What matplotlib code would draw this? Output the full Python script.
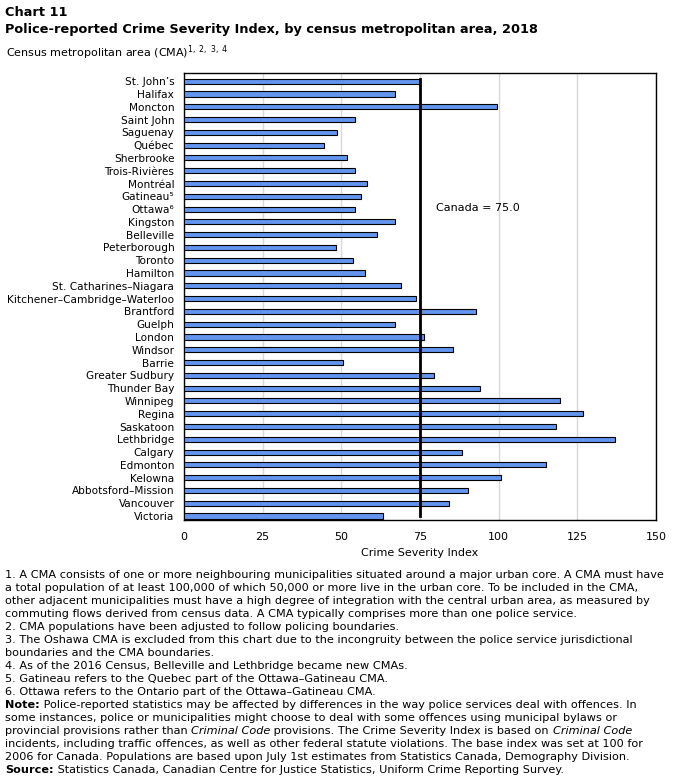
import numpy as np
import matplotlib
matplotlib.use("Agg")
import matplotlib.pyplot as plt

# data
cities = ["St. John\u2019s", "Halifax", "Moncton", "Saint John", "Saguenay", "Québec",
          "Sherbrooke", "Trois-Rivières", "Montréal", "Gatineau\u2075", "Ottawa\u2076",
          "Kingston", "Belleville", "Peterborough", "Toronto", "Hamilton",
          "St. Catharines\u2013Niagara", "Kitchener\u2013Cambridge\u2013Waterloo",
          "Brantford", "Guelph", "London", "Windsor", "Barrie", "Greater Sudbury",
          "Thunder Bay", "Winnipeg", "Regina", "Saskatoon", "Lethbridge", "Calgary",
          "Edmonton", "Kelowna", "Abbotsford\u2013Mission", "Vancouver", "Victoria"]
csi = [74.9, 67.2, 99.4, 54.3, 48.5, 44.6, 51.7, 54.5, 58.1, 56.1, 54.3,
       67.2, 61.3, 48.2, 53.6, 57.4, 69.0, 73.7, 92.8, 67.1, 76.3, 85.4,
       50.4, 79.3, 94.2, 119.4, 126.9, 118.2, 137.1, 88.2, 115.0, 100.6,
       90.1, 84.3, 63.4]
canada = 75.0
xticks = [0, 25, 50, 75, 100, 125, 150]

footnotes = [
    [("1. A CMA consists of one or more neighbouring municipalities situated around a major urban core. A CMA must have", "normal")],
    [("a total population of at least 100,000 of which 50,000 or more live in the urban core. To be included in the CMA,", "normal")],
    [("other adjacent municipalities must have a high degree of integration with the central urban area, as measured by", "normal")],
    [("commuting flows derived from census data. A CMA typically comprises more than one police service.", "normal")],
    [("2. CMA populations have been adjusted to follow policing boundaries.", "normal")],
    [("3. The Oshawa CMA is excluded from this chart due to the incongruity between the police service jurisdictional", "normal")],
    [("boundaries and the CMA boundaries.", "normal")],
    [("4. As of the 2016 Census, Belleville and Lethbridge became new CMAs.", "normal")],
    [("5. Gatineau refers to the Quebec part of the Ottawa\u2013Gatineau CMA.", "normal")],
    [("6. Ottawa refers to the Ontario part of the Ottawa\u2013Gatineau CMA.", "normal")],
    [("Note:", "bold"), (" Police-reported statistics may be affected by differences in the way police services deal with offences. In", "normal")],
    [("some instances, police or municipalities might choose to deal with some offences using municipal bylaws or", "normal")],
    [("provincial provisions rather than ", "normal"), ("Criminal Code", "italic"),
     (" provisions. The Crime Severity Index is based on ", "normal"), ("Criminal Code", "italic")],
    [("incidents, including traffic offences, as well as other federal statute violations. The base index was set at 100 for", "normal")],
    [("2006 for Canada. Populations are based upon July 1st estimates from Statistics Canada, Demography Division.", "normal")],
    [("Source:", "bold"), (" Statistics Canada, Canadian Centre for Justice Statistics, Uniform Crime Reporting Survey.", "normal")],
]

plt.rcParams['font.family'] = ['DejaVu Sans']
W, H = 676, 780
fig = plt.figure(figsize=(W / 100, H / 100), dpi=100)
ax = fig.add_axes([184 / W, 1 - 520 / H, (656 - 184) / W, (520 - 73) / H])

y = np.arange(len(cities))
ax.barh(y, csi, height=0.4, color="#6394ee", edgecolor="black", linewidth=0.8, zorder=3)
ax.plot([canada, canada], [-0.2, 34.0], color="black", linewidth=2, zorder=4)
ax.text(80, 9.9, "Canada = 75.0", fontsize=8, va="center", ha="left")

ax.set_xlim(0, 150)
ax.set_ylim(34.31, -0.64)
ax.set_xticks(xticks)
ax.set_xticklabels([str(t) for t in xticks], fontsize=8)
ax.set_yticks(y)
ax.set_yticklabels(cities, fontsize=7.6)
ax.tick_params(axis="both", length=0)
ax.tick_params(axis="y", pad=7)
ax.tick_params(axis="x", pad=9)
ax.grid(axis="x", color="#d9d9d9", linewidth=1, zorder=0)
for s in ax.spines.values():
    s.set_linewidth(1)
ax.set_xlabel("Crime Severity Index", fontsize=8, labelpad=4)

fig.text(5 / W, 1 - 12 / H, "Chart 11", fontsize=9.3, fontweight="bold", va="center")
fig.text(5 / W, 1 - 29 / H, "Police-reported Crime Severity Index, by census metropolitan area, 2018",
         fontsize=9.3, fontweight="bold", va="center")
fig.text(6 / W, 1 - 53 / H, r"Census metropolitan area (CMA)$^{\mathregular{1,\ 2,\ 3,\ 4}}$",
         fontsize=8, va="center")

# footnotes, drawn piece by piece so bold and italic parts can sit in a line
renderer = fig.canvas.get_renderer()
y0 = 575
for i, parts in enumerate(footnotes):
    xpx = 5
    ypos = 1 - (y0 + 13 * i) / H
    for txt, style in parts:
        t = fig.text(xpx / W, ypos, txt, fontsize=8.1, va="center",
                     fontweight="bold" if style == "bold" else "normal",
                     fontstyle="italic" if style == "italic" else "normal")
        xpx += t.get_window_extent(renderer).width

fig.savefig("out.png", dpi=100)
